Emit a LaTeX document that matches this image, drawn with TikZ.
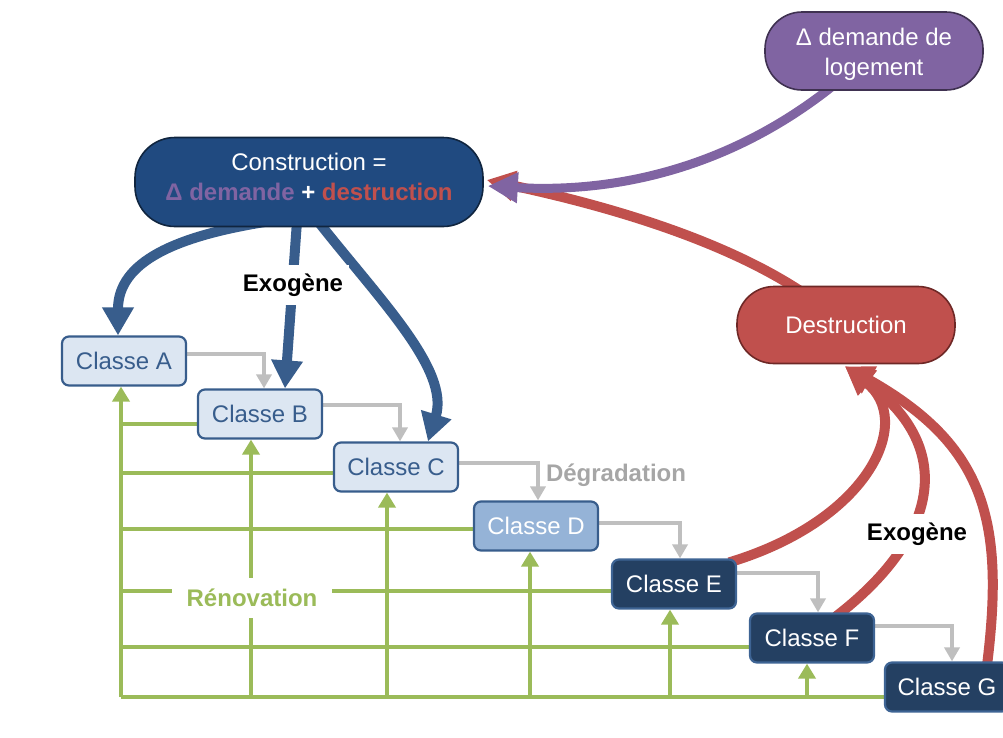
\documentclass[tikz,border=0pt]{standalone}
\usepackage{fontspec}
\setmainfont{Liberation Sans}
\usetikzlibrary{arrows.meta,calc}
\pgfdeclarelayer{background}
\pgfsetlayers{background,main}
\definecolor{conFill}{RGB}{32,74,128}
\definecolor{conDraw}{RGB}{16,37,63}
\definecolor{arrBlue}{RGB}{56,93,140}
\definecolor{purp}{RGB}{128,100,162}
\definecolor{purpDraw}{RGB}{63,49,81}
\definecolor{redc}{RGB}{192,80,77}
\definecolor{redDraw}{RGB}{110,40,38}
\definecolor{lightFill}{RGB}{220,230,242}
\definecolor{midFill}{RGB}{149,179,215}
\definecolor{darkFill}{RGB}{36,64,98}
\definecolor{boxDraw}{RGB}{56,93,140}
\definecolor{darkDraw}{RGB}{62,100,148}
\definecolor{greenc}{RGB}{155,187,89}
\definecolor{grayc}{RGB}{191,191,191}
\definecolor{graytxt}{RGB}{166,166,166}
\begin{document}
\begin{tikzpicture}[x=1pt,y=-1pt,
  txt/.style={font=\fontsize{24}{30}\selectfont},
  pill/.style={txt, text=white, align=center, inner sep=0pt, line width=1.6pt},
  classbox/.style={txt, rounded corners=7pt, line width=2.2pt, minimum width=124pt, minimum height=49pt, inner sep=0pt},
  lightbox/.style={classbox, draw=boxDraw, fill=lightFill, text=boxDraw},
  midbox/.style={classbox, draw=boxDraw, fill=midFill, text=white},
  darkbox/.style={classbox, draw=darkDraw, fill=darkFill, text=white},
  blarr/.style={line width=10pt, draw=arrBlue, -{Triangle[width=30pt,length=28pt]}},
  rdarr/.style={line width=10pt, draw=redc, -{Triangle[width=29pt,length=28pt]}},
  pparr/.style={line width=9pt, draw=purp, -{Triangle[width=29pt,length=30pt]}},
  degr/.style={line width=4pt, draw=grayc, -{Triangle[width=15pt,length=14pt]}},
  ren/.style={line width=4.5pt, draw=greenc},
  renarr/.style={ren, -{Triangle[width=17pt,length=15pt]}},
  lbl/.style={txt, font=\fontsize{24}{30}\selectfont\bfseries, fill=white, inner sep=0pt}
]
\useasboundingbox (0,0) rectangle (1003,737);
\clip (0,0) rectangle (1003,737);

% main nodes
\node[pill, draw=conDraw, fill=conFill, rounded corners=40pt, minimum width=348pt, minimum height=89pt] (con) at (309,182)
  {Construction =\\ {\bfseries\color{purp}Δ demande} {\bfseries +} {\bfseries\color{redc}destruction}\rule[-10pt]{0pt}{10pt}};
\node[pill, draw=purpDraw, fill=purp, rounded corners=37pt, minimum width=218pt, minimum height=78pt] (dem) at (874,51)
  {\rule{0pt}{24pt}Δ demande de\\ logement};
\node[pill, draw=redDraw, fill=redc, rounded corners=37pt, minimum width=218pt, minimum height=77pt] (des) at (846,325)
  {Destruction};

\node[lightbox] (A) at (124,361) {Classe A};
\node[lightbox] (B) at (260,414) {Classe B};
\node[lightbox] (C) at (396,467) {Classe C};
\node[midbox]   (D) at (536,526) {Classe D};
\node[darkbox]  (E) at (674,584) {Classe E};
\node[darkbox]  (F) at (812,638) {Classe F};
\node[darkbox]  (G) at (947,687) {Classe G};

% labels (white background hides the lines behind)
\node[lbl, minimum width=112pt, minimum height=40pt] (exo1) at (293,285) {Exogène};
\node[lbl, minimum width=112pt, minimum height=40pt] (exo2) at (917,534) {Exogène};
\node[lbl, minimum width=160pt, minimum height=40pt] (renl) at (252,598) {\color{greenc}Rénovation};
\node[txt, font=\fontsize{24}{30}\selectfont\bfseries, text=graytxt, inner sep=0pt] (degl) at (616,475) {Dégradation};

\begin{pgfonlayer}{background}
% construction -> classes
\draw[blarr] ([xshift=-40pt,yshift=6pt]con.south) .. controls (175,236) and (118,262) .. ([xshift=-6pt]A.north);
\draw[blarr] ([xshift=-12pt,yshift=6pt]con.south) -- ([xshift=25pt]B.north);
\draw[blarr] ([xshift=9pt,yshift=6pt]con.south) .. controls (380,300) and (450,370) .. ([xshift=32pt]C.north);

% to construction
\draw[rdarr] ([xshift=-46pt,yshift=-5pt]des.north) .. controls (710,232) and (580,200) .. ([xshift=3pt,yshift=2pt]con.east);
\draw[pparr] ([xshift=-41pt,yshift=5pt]dem.south) .. controls (740,160) and (630,194) .. ([xshift=4pt,yshift=-4pt]con.east);

% to destruction
\draw[rdarr] ([xshift=-8pt,yshift=-4pt]E.north east) .. controls (870,520) and (915,420) .. ([xshift=-1pt,yshift=-2pt]des.south);
\draw[rdarr] ([xshift=24pt,yshift=-4pt]F.north) .. controls (935,540) and (960,450) .. ([xshift=-1pt,yshift=-2pt]des.south);
\draw[rdarr] ([xshift=40pt,yshift=-4pt]G.north) .. controls (1005,520) and (985,445) .. ([xshift=-1pt,yshift=-2pt]des.south);

% degradation
\draw[degr] ([yshift=7pt]A.east) -| ([xshift=4pt]B.north);
\draw[degr] ([yshift=9pt]B.east) -| ([xshift=4pt]C.north);
\draw[degr] ([yshift=4pt]C.east) -| ([xshift=2pt]D.north);
\draw[degr] ([yshift=3pt]D.east) -| ([xshift=6pt]E.north);
\draw[degr] ([yshift=11pt]E.east) -| ([xshift=6pt]F.north);
\draw[degr] ([yshift=12pt]F.east) -| ([xshift=5pt]G.north);

% renovation
\coordinate (gc) at (121,697);
\draw[ren] (gc) -- ([yshift=-10pt]G.west);
\draw[renarr] (gc) -- ([xshift=-3pt]A.south);
\draw[ren] ([yshift=-10pt]B.west) -| (gc);
\draw[ren] ([yshift=-6pt]C.west) -| (gc);
\draw[ren] ([yshift=-3pt]D.west) -| (gc);
\draw[ren] ([yshift=-7pt]E.west) -| (gc);
\draw[ren] ([yshift=-9pt]F.west) -| (gc);
\draw[renarr] ($(B.south |- gc)+(-9,0)$) -- ([xshift=-9pt]B.south);
\draw[renarr] ($(C.south |- gc)+(-9,0)$) -- ([xshift=-9pt]C.south);
\draw[renarr] ($(D.south |- gc)+(-6,0)$) -- ([xshift=-6pt]D.south);
\draw[renarr] ($(E.south |- gc)+(-4,0)$) -- ([xshift=-4pt]E.south);
\draw[renarr] ($(F.south |- gc)+(-5,0)$) -- ([xshift=-5pt]F.south);
\end{pgfonlayer}
\end{tikzpicture}
\end{document}
